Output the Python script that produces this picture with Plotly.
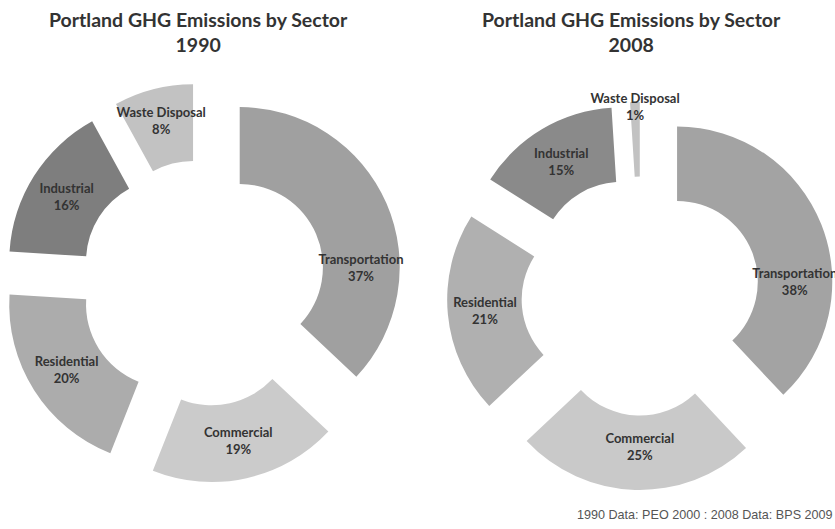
import plotly.graph_objects as go

sectors = ["Transportation", "Commercial", "Residential", "Industrial", "Waste Disposal"]
values_1990 = [37, 19, 20, 16, 8]
values_2008 = [38, 25, 21, 15, 1]
colors_1990 = ["#a0a0a0", "#cbcbcb", "#acacac", "#7e7e7e", "#c2c2c2"]
colors_2008 = ["#a3a3a3", "#c9c9c9", "#b0b0b0", "#8a8a8a", "#c2c2c2"]
titles = ["Portland GHG Emissions by Sector<br>1990", "Portland GHG Emissions by Sector<br>2008"]
footer = "1990 Data: PEO 2000 : 2008 Data: BPS 2009"

W, H = 835, 529
def px_dom(x0, x1, y0, y1):
    return dict(x=[max(x0 / W, 0.0), min(x1 / W, 1.0)], y=[1 - y1 / H, 1 - y0 / H])

label_font = dict(family="Lato, 'Open Sans', sans-serif", size=13, color="#333333", weight="bold")
title_font = dict(family="Lato, 'Open Sans', sans-serif", size=19.5, color="#333333", weight="bold")

fig = go.Figure()
for vals, cols, dom in [
    (values_1990, colors_1990, px_dom(3, 403, 83, 483)),
    (values_2008, colors_2008, px_dom(447, 839, 100, 492)),
]:
    fig.add_trace(go.Pie(
        labels=sectors, values=vals, sort=False, direction="clockwise", rotation=0,
        hole=0.52, pull=[0.25] * len(vals),
        marker=dict(colors=cols, line=dict(width=0)),
        texttemplate="%{label}<br>%{percent:.0%}", textposition="inside",
        insidetextorientation="horizontal", textfont=label_font,
        domain=dom, showlegend=False, hoverinfo="label+percent",
    ))

fig.add_annotation(text=titles[0], x=198 / W, y=1 - 6 / H, xref="paper", yref="paper",
                   xanchor="center", yanchor="top", showarrow=False, font=title_font)
fig.add_annotation(text=titles[1], x=631 / W, y=1 - 6 / H, xref="paper", yref="paper",
                   xanchor="center", yanchor="top", showarrow=False, font=title_font)
fig.add_annotation(text=footer, x=1.0, y=1 - 524 / H, xref="paper", yref="paper",
                   xanchor="right", yanchor="bottom", showarrow=False,
                   font=dict(family="'Liberation Sans', Arial, sans-serif", size=12.6, color="#555555"))

fig.update_layout(
    width=W, height=H, margin=dict(l=0, r=0, t=0, b=0),
    paper_bgcolor="white", plot_bgcolor="white",
    uniformtext=dict(minsize=13, mode="show"),
)
fig.write_html("out.html", config={"displayModeBar": False},
               post_script="document.body.style.margin='0';document.body.style.overflow='hidden';")
